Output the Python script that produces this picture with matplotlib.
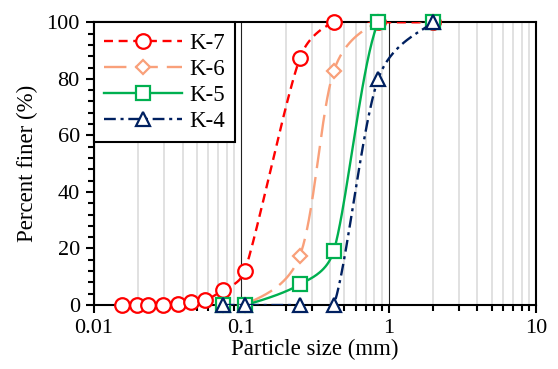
import matplotlib
matplotlib.use('Agg')
import matplotlib.pyplot as plt
from matplotlib.lines import Line2D
from matplotlib.ticker import FixedLocator, MultipleLocator, FuncFormatter, LogLocator, NullFormatter
import numpy as np

plt.rcParams['font.family'] = ['Liberation Serif', 'DejaVu Serif']

# Sieve / hydrometer data
size_k7 = [0.0155, 0.0196, 0.0235, 0.0295, 0.037, 0.0457, 0.0572, 0.075, 0.106, 0.25, 0.425, 0.85, 2.0]
pass_k7 = [0.0, 0.0, 0.0, 0.0, 0.3, 1.1, 1.8, 5.3, 12.1, 87.3, 100.0, 100.0, 100.0]

size_sieve = [0.075, 0.106, 0.25, 0.425, 0.85, 2.0]
pass_k6 = [0.0, 0.0, 17.4, 82.8, 100.0, 100.0]
pass_k5 = [0.0, 0.0, 7.3, 19.2, 100.0, 100.0]
pass_k4 = [0.0, 0.0, 0.0, 0.0, 80.0, 100.0]

labels = ['K-7', 'K-6', 'K-5', 'K-4']
colors = ['#FF0000', '#F9A07A', '#00B050', '#002060']
markers = ['o', 'D', 's', '^']
msizes = [10.5, 7.5, 10.5, 9.5]
dashes = [(3.8, 2.4), (9.5, 3.8), None, (5, 2, 1.3, 2)]


def excel_smooth(ax, xs, ys, n=40):
    # Excel style smoothed line (bezier with limited control points), in pixel space
    pts = ax.transData.transform(np.column_stack([xs, ys]))
    m = len(pts)
    t = np.linspace(0, 1, n)[:, None]
    out = []
    for i in range(m - 1):
        p0 = pts[max(i - 1, 0)]
        p1 = pts[i]
        p2 = pts[i + 1]
        p3 = pts[min(i + 2, m - 1)]
        d02 = np.hypot(*(p2 - p0))
        d12 = np.hypot(*(p2 - p1))
        d13 = np.hypot(*(p3 - p1))
        if d02 / 6 < d12 / 2 and d13 / 6 < d12 / 2:
            f0 = 1 / 6 if i > 0 else 1 / 3
            f1 = 1 / 6 if i + 2 < m else 1 / 3
        else:
            f0 = f1 = d12 / 2 / max(d02, d13)
        c1 = p1 + (p2 - p0) * f0
        c2 = p2 - (p3 - p1) * f1
        seg = ((1 - t) ** 3) * p1 + 3 * ((1 - t) ** 2) * t * c1 + 3 * (1 - t) * t ** 2 * c2 + t ** 3 * p2
        out.append(seg)
    out = ax.transData.inverted().transform(np.vstack(out))
    return out[:, 0], out[:, 1]


fig = plt.figure(figsize=(5.58, 3.69), dpi=100)
ax = fig.add_axes([0.168, 0.1734, 0.7926, 0.7662])
ax.set_xscale('log')
ax.set_xlim(0.01, 10)
ax.set_ylim(0, 100)

series = [(size_k7, pass_k7), (size_sieve, pass_k6), (size_sieve, pass_k5), (size_sieve, pass_k4)]
handles = []
for k, (xs, ys) in enumerate(series):
    sx, sy = excel_smooth(ax, xs, ys)
    ln, = ax.plot(sx, sy, color=colors[k], lw=1.7, zorder=3 + k)
    if dashes[k] is not None:
        ln.set_dashes(dashes[k])
    ax.plot(xs, ys, linestyle='none', marker=markers[k], ms=msizes[k], mfc='white',
            mec=colors[k], mew=1.6, clip_on=False, zorder=3.5 + k)
    h = Line2D([], [], color=colors[k], lw=1.7, marker=markers[k], ms=msizes[k],
               mfc='white', mec=colors[k], mew=1.6)
    if dashes[k] is not None:
        h.set_dashes(dashes[k])
    handles.append(h)

ax.xaxis.set_major_locator(FixedLocator([0.01, 0.1, 1, 10]))
ax.xaxis.set_major_formatter(FuncFormatter(lambda v, p: '%g' % v))
ax.xaxis.set_minor_locator(LogLocator(base=10, subs=np.arange(2, 10)))
ax.xaxis.set_minor_formatter(NullFormatter())
ax.yaxis.set_major_locator(MultipleLocator(20))
ax.yaxis.set_minor_locator(MultipleLocator(4))

ax.grid(True, which='minor', axis='x', color='#D9D9D9', lw=1.1, zorder=0)
ax.grid(True, which='major', axis='x', color='#222222', lw=0.8, zorder=0)
ax.set_axisbelow(True)

for s in ax.spines.values():
    s.set_color('black')
    s.set_linewidth(1.5)

ax.tick_params(axis='both', which='major', direction='out', length=6, width=1.5,
               labelsize=16, color='black', pad=4)
ax.tick_params(axis='both', which='minor', direction='out', length=4, width=1.5, color='black')

ax.set_xlabel('Particle size (mm)', fontsize=16.5, labelpad=1)
ax.set_ylabel('Percent finer (%)', fontsize=16.5, labelpad=6)

leg = ax.legend(handles, labels, loc='upper left', bbox_to_anchor=(0, 1), borderaxespad=0,
                fontsize=16.5, handlelength=3.4, handletextpad=0.3, labelspacing=0.22,
                borderpad=0.45, fancybox=False, framealpha=1, edgecolor='black')
leg.get_frame().set_linewidth(1.5)
leg.set_zorder(10)

fig.savefig('out.png', dpi=100)
